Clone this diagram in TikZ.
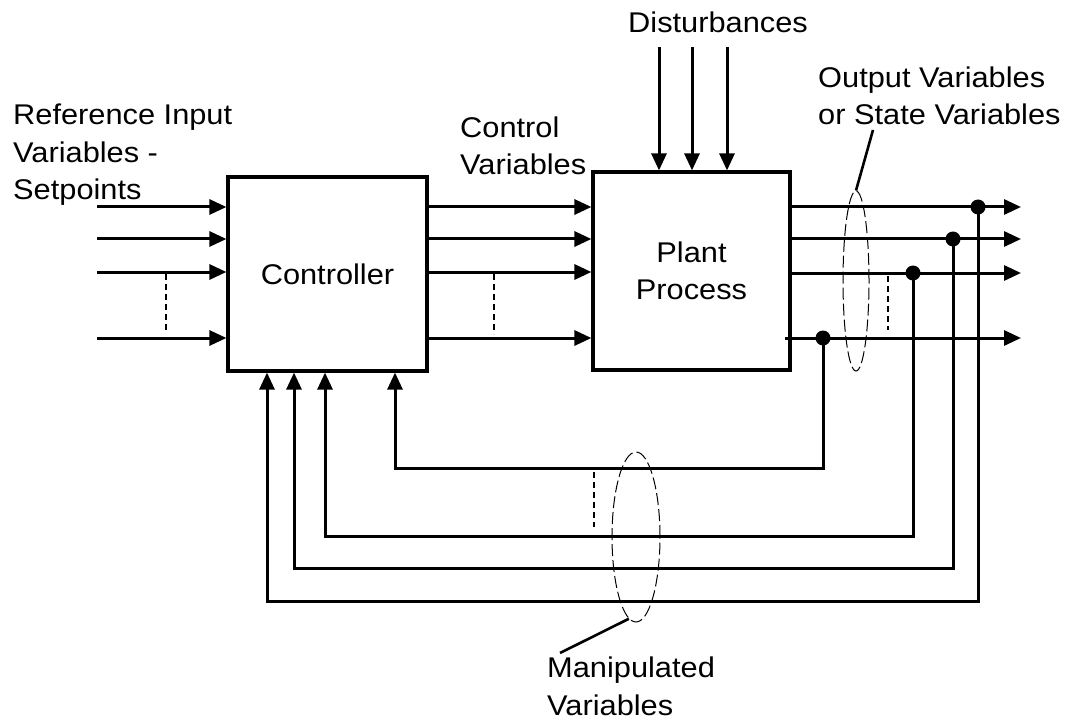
\documentclass[tikz,border=0pt]{standalone}
\usepackage{fontspec}
\setmainfont{Liberation Sans}[FakeStretch=1.08]
\usetikzlibrary{arrows.meta,shapes.geometric,calc}
\begin{document}
\begin{tikzpicture}[x=1pt,y=-1pt,
  wire/.style={line width=3pt},
  arr/.style={wire,-{Triangle[length=17pt,width=15pt]}},
  blk/.style={draw,line width=3.2pt,inner sep=0pt,font=\fontsize{28.5}{37.5}\selectfont},
  lbl/.style={inner sep=0pt,align=left,font=\fontsize{28.5}{37.5}\selectfont},
  dashln/.style={line width=1.3pt,dash pattern=on 6pt off 4pt},
  bundle/.style={ellipse,draw,line width=1pt,dash pattern=on 12pt off 4pt,inner sep=0pt},
  leader/.style={line width=2.6pt},
  junction/.style={circle,fill,inner sep=0pt,minimum size=15pt}]
\useasboundingbox (0,0) rectangle (1079,722);

% blocks
\node[blk,minimum width=199pt,minimum height=194pt] (ctrl) at (327.5,274) {Controller};
\node[blk,minimum width=197pt,minimum height=198pt,align=center] (plant) at (691.5,271) {Plant\\Process};

% inputs and control variables
\foreach \y [count=\i] in {207,239,272,338} {
  \coordinate (in\i) at (97,\y);
  \draw[arr] (in\i) -- (in\i -| ctrl.west);
  \draw[arr] (ctrl.east |- in\i) -- (plant.west |- in\i);
}

% disturbances
\foreach \x [count=\i] in {659,692,727} {
  \coordinate (d\i) at (\x,47);
  \draw[arr] (d\i) -- (d\i |- plant.north);
}

% outputs
\coordinate (out1) at (1021,207);
\coordinate (out2) at (1021,239);
\coordinate (out3) at (1021,273);
\coordinate (out4) at (1021,338);
\draw[arr] (plant.east |- out1) -- (out1);
\draw[arr] (plant.east |- out2) -- (out2);
\draw[arr] (plant.east |- out3) -- (out3);
\draw[arr] ([xshift=-7pt]plant.east |- out4) -- (out4);

% junctions
\node[junction] (j1) at (978,207) {};
\node[junction] (j2) at (953,239) {};
\node[junction] (j3) at (913,273) {};
\node[junction] (j4) at (823,338) {};

% feedback
\coordinate (f1) at (267,601);
\coordinate (f2) at (294,568);
\coordinate (f3) at (325,536);
\coordinate (f4) at (395,468);
\draw[arr] (j1.center) |- (f1) -- (f1 |- ctrl.south);
\draw[arr] (j2.center) |- (f2) -- (f2 |- ctrl.south);
\draw[arr] (j3.center) |- (f3) -- (f3 |- ctrl.south);
\draw[arr] (j4.center) |- (f4) -- (f4 |- ctrl.south);

% dashed "more lines" marks
\draw[dashln] (166,274) -- (166,332);
\draw[dashln] (494,274) -- (494,334);
\draw[dashln] (888,276) -- (888,330);
\draw[dashln] (594,472) -- (594,527);

% bundles
\node[bundle,minimum width=26pt,minimum height=180pt] (outell) at (856,281) {};
\node[bundle,minimum width=48pt,minimum height=170pt] (manell) at (636,537) {};

% labels (base anchor = baseline of the last line)
\node[lbl,anchor=base west] (reflbl) at (13,200) {Reference Input\\Variables -\\Setpoints};
\node[lbl,anchor=base west] (ctrllbl) at (460,175) {Control\\Variables};
\node[lbl,anchor=base west] (distlbl) at (628,33) {Disturbances};
\node[lbl,anchor=base west] (outlbl) at (818,125) {Output Variables\\or State Variables};
\node[lbl,anchor=base west] (manlbl) at (547,715) {Manipulated\\Variables};

% leaders
\coordinate (outlead) at (873,130);
\coordinate (manlead) at (560,653);
\draw[leader] (outlead) -- (outell.north);
\draw[leader] (manlead) -- (manell.-95);
\end{tikzpicture}
\end{document}
